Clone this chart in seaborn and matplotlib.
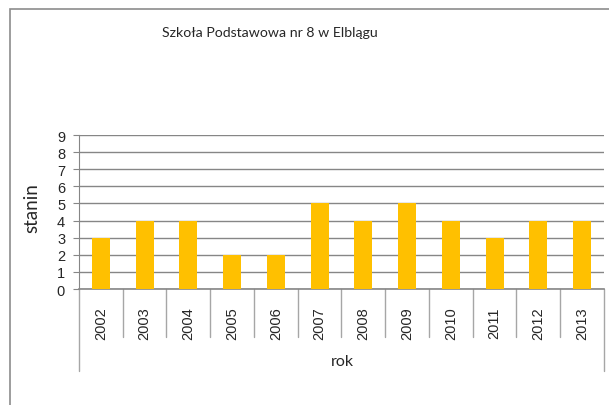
import matplotlib
matplotlib.use("Agg")
import matplotlib.pyplot as plt
from matplotlib.patches import Rectangle
import seaborn as sns
import pandas as pd

years = ["2002", "2003", "2004", "2005", "2006", "2007",
         "2008", "2009", "2010", "2011", "2012", "2013"]
stanin = [3, 4, 4, 2, 2, 5, 4, 5, 4, 3, 4, 4]
yticks = list(range(0, 10))

title = "Szkoła Podstawowa nr 8 w Elblągu"
ylabel = "stanin"
xlabel = "rok"

df = pd.DataFrame({"rok": years, "stanin": stanin})

sns.set_style("white")
plt.rcParams["font.family"] = ["Liberation Sans", "DejaVu Sans"]
calibri_like = ["Lato", "DejaVu Sans"]

fig = plt.figure(figsize=(6.09, 4.06), dpi=100)
W, H = 609, 406
ax = fig.add_axes([79 / W, 1 - 290 / H, (604 - 79) / W, (290 - 136) / H])

sns.barplot(data=df, x="rok", y="stanin", color="#FFC000", width=0.41,
            saturation=1, linewidth=0, ax=ax, zorder=3)

grid_c = "#868686"
ax.set_ylim(0, 9)
ax.set_xlim(-0.5, len(years) - 0.5)
ax.set_yticks(yticks)
ax.set_yticklabels([str(v) for v in yticks], fontsize=10.5)
ax.yaxis.grid(True, color=grid_c, linewidth=1, zorder=0)
ax.set_axisbelow(True)
for s in ["top", "right"]:
    ax.spines[s].set_visible(False)
ax.spines["left"].set_color(grid_c)
ax.spines["bottom"].set_color(grid_c)
ax.spines["bottom"].set_linewidth(1.2)
ax.tick_params(axis="y", left=True, length=4, color=grid_c, pad=6)
ax.tick_params(axis="x", bottom=False, pad=9)
ax.set_xticks(range(len(years)))
ax.set_xticklabels(years, rotation=90, fontsize=10.5)
ax.set_xlabel("")
ax.set_ylabel("")

# category separators below the axis
tr = ax.get_xaxis_transform()
n = len(years)
for i in range(n + 1):
    y_end = -0.532 if i in (0, n) else -0.312
    ax.plot([i - 0.5, i - 0.5], [0, y_end], color="#A6A6A6", lw=1,
            transform=tr, clip_on=False)

# chart frame
fig.patches.append(Rectangle((9.5 / W, -0.1), 1.2, 1.1 - 9.5 / H,
                             transform=fig.transFigure, fill=False,
                             edgecolor="#8C8C8C", lw=1.2))

fig.text(270 / W, 1 - 33 / H, title, ha="center", va="center",
         fontsize=10.2, family=calibri_like)
fig.text(32 / W, 1 - 208 / H, ylabel, ha="center", va="center",
         rotation=90, fontsize=13.5, family=calibri_like)
fig.text(342 / W, 1 - 362 / H, xlabel, ha="center", va="center",
         fontsize=11.5, family=calibri_like)

fig.savefig("out.png", dpi=100)
